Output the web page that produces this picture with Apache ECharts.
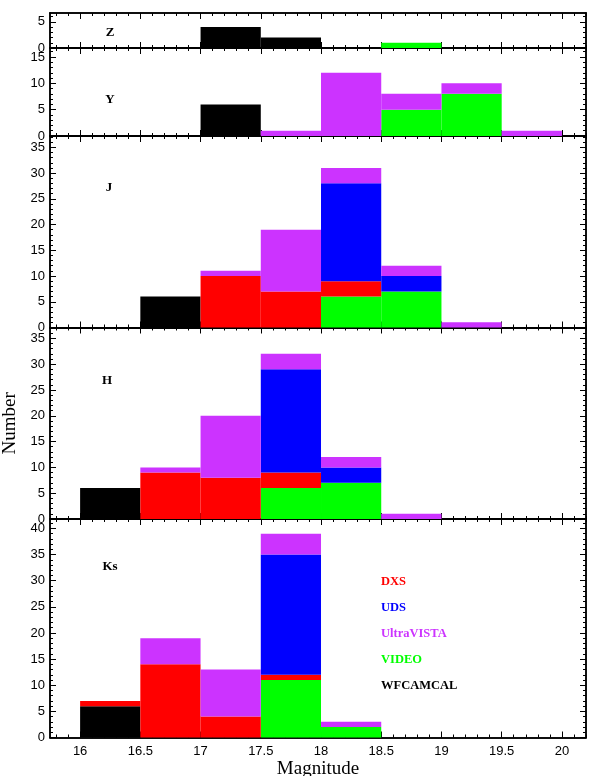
<!DOCTYPE html>
<html><head><meta charset="utf-8">
<script src="https://cdn.jsdelivr.net/npm/echarts@6/dist/echarts.min.js"></script>
<style>html,body{margin:0;padding:0;background:#fff}#c{width:590px;height:776px}</style>
</head><body><div id="c"></div>
<script>
// ---------- data ----------
const binEdges = [16, 16.5, 17, 17.5, 18, 18.5, 19, 19.5, 20];
const surveys = ['WFCAMCAL', 'VIDEO', 'DXS', 'UDS', 'UltraVISTA']; // stacking order, bottom -> top
const bands = ['Z', 'Y', 'J', 'H', 'Ks'];
const legendOrder = ['DXS', 'UDS', 'UltraVISTA', 'VIDEO', 'WFCAMCAL'];

// counts per survey (rows in `surveys` order), per 0.5-mag bin
const countsZ = [
  [0, 0, 4, 2, 0, 0, 0, 0],
  [0, 0, 0, 0, 0, 1, 0, 0],
  [0, 0, 0, 0, 0, 0, 0, 0],
  [0, 0, 0, 0, 0, 0, 0, 0],
  [0, 0, 0, 0, 0, 0, 0, 0]
];
const countsY = [
  [0, 0, 6, 0, 0, 0, 0, 0],
  [0, 0, 0, 0, 0, 5, 8, 0],
  [0, 0, 0, 0, 0, 0, 0, 0],
  [0, 0, 0, 0, 0, 0, 0, 0],
  [0, 0, 0, 1, 12, 3, 2, 1]
];
const countsJ = [
  [0, 6, 0, 0, 0, 0, 0, 0],
  [0, 0, 0, 0, 6, 7, 0, 0],
  [0, 0, 10, 7, 3, 0, 0, 0],
  [0, 0, 0, 0, 19, 3, 0, 0],
  [0, 0, 1, 12, 3, 2, 1, 0]
];
const countsH = [
  [6, 0, 0, 0, 0, 0, 0, 0],
  [0, 0, 0, 6, 7, 0, 0, 0],
  [0, 9, 8, 3, 0, 0, 0, 0],
  [0, 0, 0, 20, 3, 0, 0, 0],
  [0, 1, 12, 3, 2, 1, 0, 0]
];
const countsKs = [
  [6, 0, 0, 0, 0, 0, 0, 0],
  [0, 0, 0, 11, 2, 0, 0, 0],
  [1, 14, 4, 1, 0, 0, 0, 0],
  [0, 0, 0, 23, 0, 0, 0, 0],
  [0, 5, 9, 4, 1, 0, 0, 0]
];
const allCounts = [countsZ, countsY, countsJ, countsH, countsKs];

const xMin = 15.75, xMax = 20.2;
const yMaxes = [6.7, 16.7, 37.2, 37.1, 41.8];
const xTickValues = [16, 16.5, 17, 17.5, 18, 18.5, 19, 19.5, 20];
const yTickValues = [
  [0, 5],
  [0, 5, 10, 15],
  [0, 5, 10, 15, 20, 25, 30, 35],
  [0, 5, 10, 15, 20, 25, 30, 35],
  [0, 5, 10, 15, 20, 25, 30, 35, 40]
];

// ---------- style / layout ----------
const surveyColors = {WFCAMCAL: '#000000', VIDEO: '#00ff00', DXS: '#ff0000', UDS: '#0000ff', UltraVISTA: '#cc33ff'};
const panelTops = [13, 48, 136, 327.5, 519];
const panelBottoms = [48, 136, 327.5, 519, 737.5];
const bandLabelPos = [[110, 33], [110, 100], [109, 188], [107, 381], [110, 567]];
const legendX = 381, legendY0 = 582, legendDy = 26;

const minorX = [];
for (let k = 158; k <= 202; k++) { if (k % 5 !== 0) minorX.push(k / 10); }
function minorY(max) { const a = []; for (let v = 1; v < max; v++) if (v % 5 !== 0) a.push(v); return a; }

const lineStyle = {color: '#000', width: 1.5};
const grids = [], xAxes = [], yAxes = [], series = [], graphics = [];

bands.forEach((band, g) => {
  grids.push({left: 50, right: 4, top: panelTops[g], height: panelBottoms[g] - panelTops[g],
    containLabel: false, outerBoundsMode: 'none'});
  const last = g === bands.length - 1;
  const xBase = {type: 'value', gridIndex: g, min: xMin, max: xMax, splitLine: {show: false},
    axisLine: {show: true, onZero: false, lineStyle}};
  xAxes.push(Object.assign({}, xBase, {position: 'bottom',
    axisTick: {show: true, inside: true, length: 6, lineStyle: {color: '#000', width: 1}, customValues: xTickValues},
    axisLabel: {show: last, customValues: xTickValues, margin: 7, color: '#000', fontFamily: 'Liberation Sans', fontSize: 13},
    name: last ? 'Magnitude' : '', nameLocation: 'middle', nameGap: 22,
    nameTextStyle: {fontFamily: 'Liberation Serif', fontSize: 19, color: '#000'}}));
  xAxes.push(Object.assign({}, xBase, {position: 'bottom',
    axisTick: {show: true, inside: true, length: 3, lineStyle: {color: '#000', width: 1}, customValues: minorX},
    axisLabel: {show: false}}));
  xAxes.push(Object.assign({}, xBase, {position: 'top',
    axisTick: {show: true, inside: true, length: 6, lineStyle: {color: '#000', width: 1}, customValues: xTickValues},
    axisLabel: {show: false}}));
  xAxes.push(Object.assign({}, xBase, {position: 'top',
    axisTick: {show: true, inside: true, length: 3, lineStyle: {color: '#000', width: 1}, customValues: minorX},
    axisLabel: {show: false}}));

  const yBase = {type: 'value', gridIndex: g, min: 0, max: yMaxes[g], splitLine: {show: false},
    axisLine: {show: true, onZero: false, lineStyle}};
  yAxes.push(Object.assign({}, yBase, {position: 'left',
    axisTick: {show: true, inside: true, length: 6, lineStyle: {color: '#000', width: 1}, customValues: yTickValues[g]},
    axisLabel: {show: true, customValues: yTickValues[g], margin: 5, color: '#000', fontFamily: 'Liberation Sans', fontSize: 13},
    name: g === 3 ? 'Number' : '', nameLocation: 'middle', nameGap: 26,
    nameTextStyle: {fontFamily: 'Liberation Serif', fontSize: 19, color: '#000'}}));
  yAxes.push(Object.assign({}, yBase, {position: 'left',
    axisTick: {show: true, inside: true, length: 3, lineStyle: {color: '#000', width: 1}, customValues: minorY(yMaxes[g])},
    axisLabel: {show: false}}));
  yAxes.push(Object.assign({}, yBase, {position: 'right',
    axisTick: {show: true, inside: true, length: 6, lineStyle: {color: '#000', width: 1}, customValues: yTickValues[g]},
    axisLabel: {show: false}}));
  yAxes.push(Object.assign({}, yBase, {position: 'right',
    axisTick: {show: true, inside: true, length: 3, lineStyle: {color: '#000', width: 1}, customValues: minorY(yMaxes[g])},
    axisLabel: {show: false}}));

  const counts = allCounts[g];
  const base = new Array(binEdges.length - 1).fill(0);
  surveys.forEach((s, si) => {
    const data = [];
    counts[si].forEach((c, b) => {
      if (c > 0) data.push([binEdges[b], binEdges[b + 1], base[b], base[b] + c]);
      base[b] += c;
    });
    series.push({
      type: 'custom', name: s, xAxisIndex: g * 4, yAxisIndex: g * 4,
      encode: {x: [0, 1], y: [2, 3]},
      data,
      renderItem: (params, api) => {
        const p0 = api.coord([api.value(0), api.value(3)]);
        const p1 = api.coord([api.value(1), api.value(2)]);
        return {type: 'rect', shape: {x: p0[0], y: p0[1], width: p1[0] - p0[0], height: p1[1] - p0[1]},
          style: {fill: surveyColors[s]}};
      },
      silent: true, z: 1
    });
  });

  graphics.push({type: 'text', x: bandLabelPos[g][0], y: bandLabelPos[g][1],
    style: {text: band, fill: '#000', font: 'bold 13px "Liberation Serif"', textAlign: 'center', textVerticalAlign: 'middle'}});
});

legendOrder.forEach((s, i) => {
  graphics.push({type: 'text', x: legendX, y: legendY0 + i * legendDy,
    style: {text: s, fill: surveyColors[s], font: 'bold 12.5px "Liberation Serif"', textAlign: 'left', textVerticalAlign: 'middle'}});
});

const chart = echarts.init(document.getElementById('c'), null, {renderer: 'canvas'});
chart.setOption({
  animation: false,
  backgroundColor: '#fff',
  grid: grids, xAxis: xAxes, yAxis: yAxes, series,
  graphic: graphics
});
</script></body></html>
